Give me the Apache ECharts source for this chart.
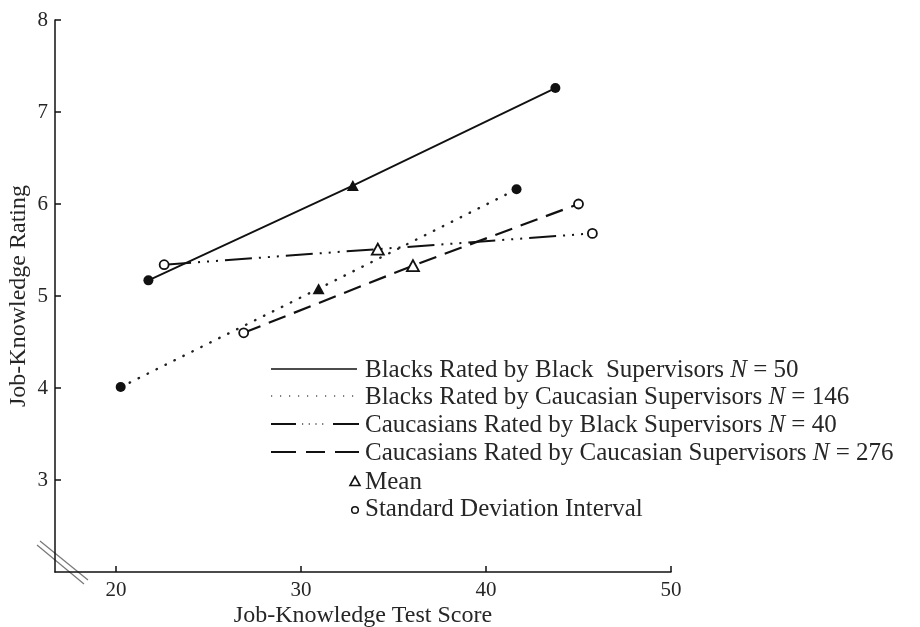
<!DOCTYPE html>
<html>
<head>
<meta charset="utf-8">
<script src="https://cdn.jsdelivr.net/npm/echarts@6/dist/echarts.min.js"></script>
<style>
html,body{margin:0;padding:0;background:#fff;}
#c{width:920px;height:627px;}
</style>
</head>
<body>
<div id="c"></div>
<script>
// ---- data ----
const xTicks = [20, 30, 40, 50];
const yTicks = [3, 4, 5, 6, 7, 8];

const seriesNames = [
  'Blacks Rated by Black Supervisors',
  'Blacks Rated by Caucasian Supervisors',
  'Caucasians Rated by Black Supervisors',
  'Caucasians Rated by Caucasian Supervisors'
];
const seriesN = [50, 146, 40, 276];

// each series: [low SD point, mean, high SD point]
const blackByBlackX = [21.75, 32.8, 43.75];
const blackByBlackY = [5.17, 6.2, 7.26];
const blackByCaucX = [20.25, 30.95, 41.65];
const blackByCaucY = [4.01, 5.08, 6.16];
const caucByBlackX = [22.6, 34.15, 45.75];
const caucByBlackY = [5.34, 5.51, 5.68];
const caucByCaucX = [26.9, 36.05, 45.0];
const caucByCaucY = [4.6, 5.33, 6.0];

const pointKinds = ['sd', 'mean', 'sd'];

// ---- chart ----
const SERIF = '"Liberation Serif", "Times New Roman", serif';
const INK = '#111';
const TXT = '#262626';

function pts(xs, ys, filled) {
  return xs.map((x, i) => {
    const mean = pointKinds[i] === 'mean';
    return {
      value: [x, ys[i]],
      symbol: mean ? 'triangle' : 'circle',
      symbolSize: mean ? [12, 11] : (filled ? 10 : 9),
      itemStyle: filled
        ? { color: INK, borderColor: INK, borderWidth: 0 }
        : { color: '#fff', borderColor: INK, borderWidth: 1.8 }
    };
  });
}

const lineStyles = [
  { color: INK, width: 1.8, type: 'solid' },
  { color: '#222', width: 2.4, type: [0.5, 9.5], cap: 'round' },
  { color: INK, width: 2, type: [27, 7, 2, 7, 2, 7, 2, 7] },
  { color: INK, width: 2.2, type: [18, 9] }
];

const dataSets = [
  pts(blackByBlackX, blackByBlackY, true),
  pts(blackByCaucX, blackByCaucY, true),
  pts(caucByBlackX, caucByBlackY, false),
  pts(caucByCaucX, caucByCaucY, false)
];

const series = dataSets.map((d, i) => ({
  name: seriesNames[i],
  type: 'line',
  data: d,
  lineStyle: lineStyles[i],
  showSymbol: true,
  z: 2 + (i < 2 ? 1 : 0),
  animation: false
}));

// legend drawn as graphic
const legX0 = 271, legX1 = 358, legText = 365;
const rowY = [369, 396, 424, 452, 481, 508];
const FS = 25;
const AX = 24;
const legFont = 'normal ' + FS + 'px ' + SERIF;
const g = [];
// row 1 solid
g.push({ type: 'line', shape: { x1: legX0, y1: rowY[0], x2: legX1 - 1, y2: rowY[0] }, style: { stroke: INK, lineWidth: 1.5 } });
// row 2 dotted
g.push({ type: 'line', shape: { x1: legX0, y1: rowY[1], x2: legX1 - 1, y2: rowY[1] }, style: { stroke: '#555', lineWidth: 1.3, lineDash: [1.2, 7.8] } });
// row 3 dash-dot-dot-dash
g.push({ type: 'line', shape: { x1: legX0, y1: rowY[2], x2: 296, y2: rowY[2] }, style: { stroke: INK, lineWidth: 2 } });
g.push({ type: 'line', shape: { x1: 302, y1: rowY[2], x2: 327, y2: rowY[2] }, style: { stroke: '#444', lineWidth: 1.3, lineDash: [1.2, 5.5] } });
g.push({ type: 'line', shape: { x1: 333, y1: rowY[2], x2: 359, y2: rowY[2] }, style: { stroke: INK, lineWidth: 2 } });
// row 4 dashes
g.push({ type: 'line', shape: { x1: legX0, y1: rowY[3], x2: 296, y2: rowY[3] }, style: { stroke: INK, lineWidth: 2 } });
g.push({ type: 'line', shape: { x1: 306, y1: rowY[3], x2: 325, y2: rowY[3] }, style: { stroke: INK, lineWidth: 2 } });
g.push({ type: 'line', shape: { x1: 335, y1: rowY[3], x2: 359, y2: rowY[3] }, style: { stroke: INK, lineWidth: 2 } });

const rich = {
  n: { font: legFont, fill: TXT },
  i: { font: 'italic ' + FS + 'px ' + SERIF, fill: TXT }
};
const legendTexts = [
  '{n|' + seriesNames[0].replace('Black Supervisors', 'Black  Supervisors') + ' }{i|N}{n| = ' + seriesN[0] + '}',
  '{n|' + seriesNames[1] + ' }{i|N}{n| = ' + seriesN[1] + '}',
  '{n|' + seriesNames[2] + ' }{i|N}{n| = ' + seriesN[2] + '}',
  '{n|' + seriesNames[3] + ' }{i|N}{n| = ' + seriesN[3] + '}'
];
legendTexts.forEach((t, i) => {
  g.push({ type: 'text', x: legText, y: rowY[i] + 1, style: { text: t, rich: rich, verticalAlign: 'middle', align: 'left', font: legFont, fill: TXT } });
});
// mean / SD symbols
g.push({ type: 'polygon', shape: { points: [[355, 476.5], [350, 485.5], [360, 485.5]] }, style: { fill: 'none', stroke: INK, lineWidth: 1.6 } });
g.push({ type: 'text', x: 365, y: rowY[4] + 1, style: { text: 'Mean', font: legFont, fill: TXT, verticalAlign: 'middle' } });
g.push({ type: 'circle', shape: { cx: 355, cy: rowY[5] + 2, r: 3.3 }, style: { fill: '#fff', stroke: INK, lineWidth: 1.5 } });
g.push({ type: 'text', x: 365, y: rowY[5] + 1, style: { text: 'Standard Deviation Interval', font: legFont, fill: TXT, verticalAlign: 'middle' } });
// axis break marks
g.push({ type: 'line', shape: { x1: 37, y1: 545, x2: 84, y2: 584 }, style: { stroke: '#777', lineWidth: 1.2 } });
g.push({ type: 'line', shape: { x1: 40, y1: 541, x2: 88, y2: 580 }, style: { stroke: '#777', lineWidth: 1.2 } });

const chart = echarts.init(document.getElementById('c'), null, { renderer: 'canvas' });
chart.setOption({
  animation: false,
  backgroundColor: '#fff',
  grid: { left: 55, right: 249, top: 20, bottom: 55, containLabel: false, outerBoundsMode: 'none' },
  xAxis: {
    type: 'value',
    min: 16.7,
    max: 50,
    name: 'Job-Knowledge Test Score',
    nameLocation: 'middle',
    nameGap: 32,
    nameMoveOverlap: false,
    nameTextStyle: { fontFamily: SERIF, fontSize: AX, color: TXT },
    axisLine: { show: true, onZero: false, lineStyle: { color: INK, width: 1.5 } },
    axisTick: { show: true, inside: true, length: 6, customValues: xTicks, lineStyle: { color: INK, width: 1.5 } },
    axisLabel: { show: true, margin: 8, customValues: xTicks, fontFamily: SERIF, fontSize: 21, color: TXT },
    splitLine: { show: false }
  },
  yAxis: {
    type: 'value',
    min: 2,
    max: 8,
    name: 'Job-Knowledge Rating',
    nameLocation: 'middle',
    nameGap: 24,
    nameRotate: 90,
    nameMoveOverlap: false,
    nameTextStyle: { fontFamily: SERIF, fontSize: AX, color: TXT },
    axisLine: { show: true, onZero: false, lineStyle: { color: INK, width: 1.5 } },
    axisTick: { show: true, inside: true, length: 6, customValues: yTicks, lineStyle: { color: INK, width: 1.5 } },
    axisLabel: { show: true, margin: 7, customValues: yTicks, fontFamily: SERIF, fontSize: 21, color: TXT },
    splitLine: { show: false }
  },
  series: series,
  graphic: g
});
</script>
</body>
</html>
